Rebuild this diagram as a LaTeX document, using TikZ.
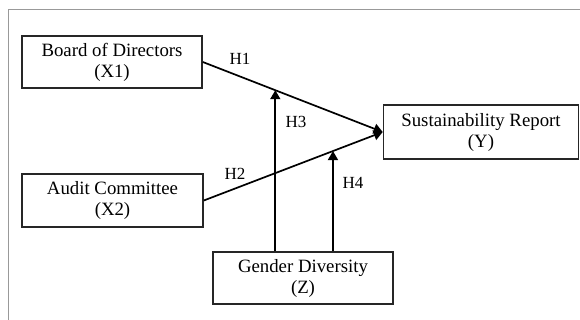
\documentclass[tikz,border=0pt]{standalone}
\usepackage{fontspec}
\setmainfont{Liberation Serif}
\usetikzlibrary{arrows.meta,calc}
\begin{document}
\begin{tikzpicture}[x=1pt,y=-1pt,
  box/.style={draw=black!85,line width=1.6pt,fill=white,align=center,inner sep=0pt,
    font=\fontsize{18.8}{21}\selectfont},
  conn/.style={draw=black,line width=1.7pt,-{Triangle[length=9pt,width=10pt]}},
  lbl/.style={font=\fontsize{17}{19}\selectfont,inner sep=0pt}]
\useasboundingbox (0,0) rectangle (580,320);
\draw[gray!80,line width=1pt] (8,320) -- (8,10) -- (580,10);
\node[box,minimum width=180pt,minimum height=52pt] (x1) at (112,62) {Board of Directors\\(X1)};
\node[box,minimum width=181pt,minimum height=53pt] (x2) at (112.5,200.5) {Audit Committee\\(X2)};
\node[box,minimum width=195pt,minimum height=54pt] (y) at (481,132) {Sustainability Report\\(Y)};
\node[box,minimum width=180pt,minimum height=52pt] (z) at (303,278) {Gender Diversity\\(Z)};
\coordinate (m1) at ($(x1.east)!0.403!(y.west)$);
\coordinate (m2) at ($(x2.east)!0.722!(y.west)$);
\draw[conn] (x1.east) -- (y.west);
\draw[conn] (x2.east) -- (y.west);
\draw[conn] (z.north -| m1) -- (m1);
\draw[conn] (z.north -| m2) -- (m2);
\node[lbl] (h1) at (240,59) {H1};
\node[lbl] (h2) at (235,174) {H2};
\node[lbl] (h3) at (296,122) {H3};
\node[lbl] (h4) at (353,183) {H4};
\end{tikzpicture}
\end{document}
